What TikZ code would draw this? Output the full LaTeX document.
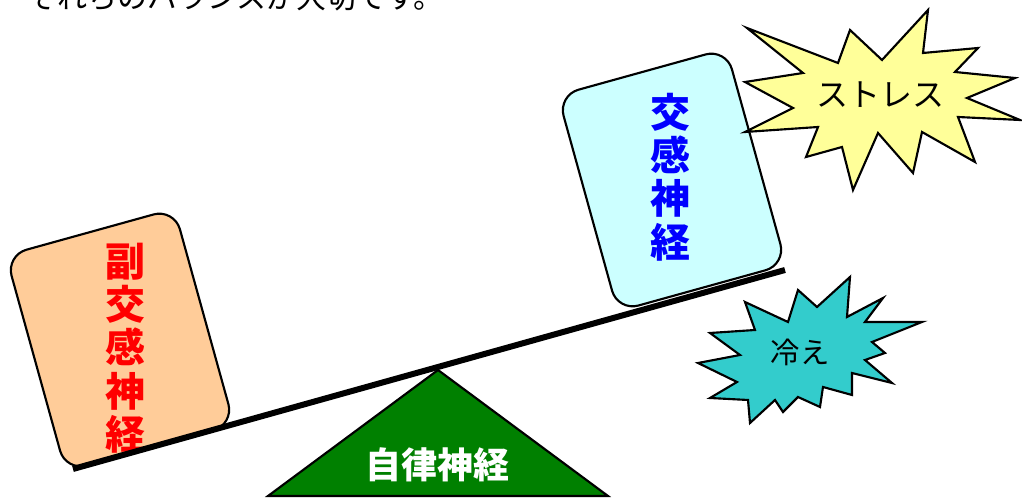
\documentclass[tikz,border=0pt]{standalone}
\usepackage{fontspec}
\newfontfamily\cjk{Noto Sans CJK JP}
\definecolor{peach}{HTML}{FFCC99}
\definecolor{paleblue}{HTML}{CCFFFF}
\definecolor{lemon}{HTML}{FFFF99}
\definecolor{seacyan}{HTML}{33CCCC}
\definecolor{leafgreen}{HTML}{008000}
\tikzset{
  card/.style={draw, line width=1.6pt, rounded corners=16pt, minimum width=131pt, minimum height=168pt, rotate=15.5},
  nervetext/.style={font=\cjk\bfseries\fontsize{30}{32.5}\selectfont, align=center},
  burst/.style={draw=black, line width=1.6pt, line join=miter},
  bursttext/.style={font=\cjk\fontsize{24}{26}\selectfont},
}
\begin{document}
\begin{tikzpicture}[x=0.75pt,y=-0.75pt]
        \useasboundingbox (0,0) rectangle (1022,498);
        \node[anchor=base west, inner sep=0pt, font=\cjk\fontsize{22.5}{24}\selectfont] (title) at (27,9) {それらのバランスが大切です。};
        % fulcrum
        \filldraw[fill=leafgreen, draw=black, line width=1.6pt] (268,496) -- (438,370) -- (608,496) -- cycle;
        \node[font=\cjk\bfseries\fontsize{27}{29}\selectfont, text=white] (base) at (437,465) {自律神経};
        % the two cards
        \node[card, fill=peach] (para) at (120,340) {};
        \node[nervetext, text=red] (paratext) at (125,348) {副\\交\\感\\神\\経};
        \node[card, fill=paleblue] (symp) at (672,180) {};
        \node[nervetext, text=blue] (symptext) at (670,177) {交\\感\\神\\経};
        % beam
        \draw[line width=4.5pt] (73,469)--(785,270);
        % stress burst
        \filldraw[burst, fill=lemon] (747,28)--(838,63)--(850,30)--(882,60)--(928,10)--(923,53)--(978,48)--(955,72)--(1015,78)--(967,98)--(1020,120)--(958,117)--(975,162)--(922,132)--(913,173)--(878,133)--(853,190)--(842,147)--(806,157)--(818,127)--(745,132)--(793,108)--(745,82)--(803,73)--cycle;
        \node[bursttext] (stress) at (880,95) {ストレス};
        % cold burst
        \filldraw[burst, fill=seacyan] (745,302)--(788,322)--(798,290)--(817,307)--(850,277)--(847,317)--(883,298)--(865,322)--(922,322)--(872,342)--(885,353)--(865,360)--(892,383)--(852,373)--(852,395)--(823,387)--(820,407)--(798,397)--(783,412)--(775,400)--(750,423)--(748,400)--(710,398)--(737,382)--(698,363)--(740,355)--(710,333)--(755,330)--cycle;
        \node[bursttext, font=\cjk\fontsize{22}{24}\selectfont] (cold) at (800,352) {冷え};
\end{tikzpicture}
\end{document}
